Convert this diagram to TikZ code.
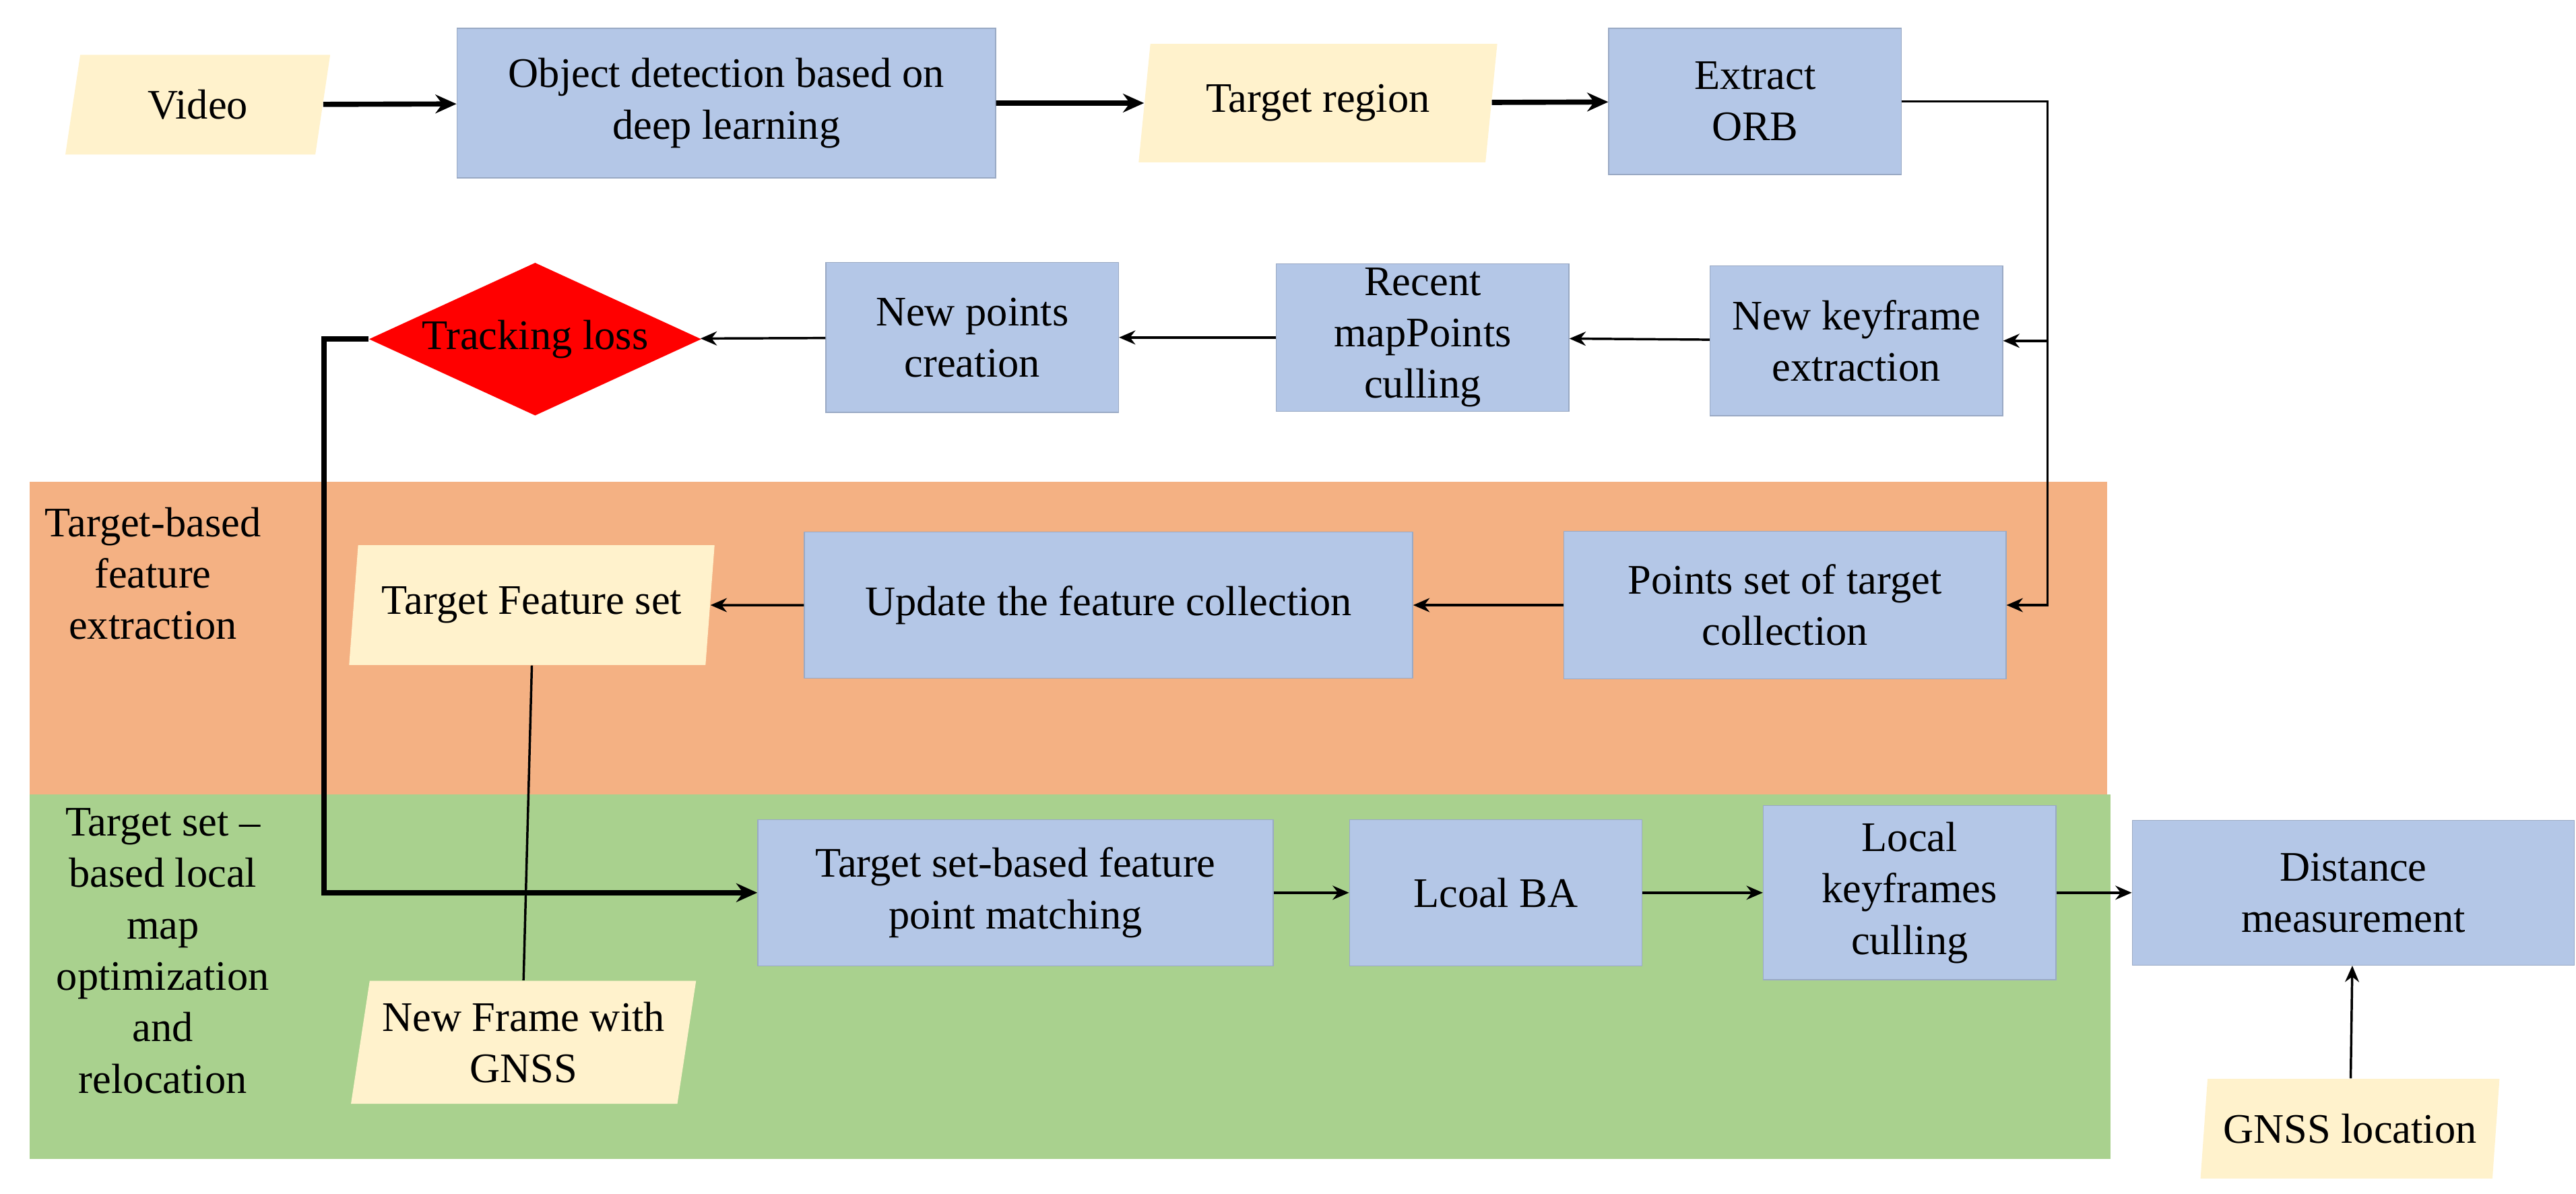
\documentclass[tikz,border=0pt]{standalone}
\usepackage{fontspec}
\setmainfont{Liberation Serif}
\usetikzlibrary{shapes.geometric,arrows.meta}
\definecolor{boxblue}{HTML}{B4C7E7}
\definecolor{paper}{HTML}{FFF2CC}
\definecolor{band1}{HTML}{F4B183}
\definecolor{band2}{HTML}{A9D18E}
\begin{document}
\begin{tikzpicture}[x=0.025cm,y=-0.025cm,
  every node/.style={font=\fontsize{18}{22}\selectfont,align=center,inner sep=0},
  box/.style={fill=boxblue,draw=boxblue!85!black,line width=0.4pt},
  io/.style={trapezium,trapezium left angle=78,trapezium right angle=102,
    trapezium stretches=true,fill=paper},
  arr/.style={-{Stealth[length=7pt,width=6pt]},line width=1pt},
  tarr/.style={-{Stealth[length=9pt,width=8pt]},line width=2.2pt},
  ln/.style={line width=1pt}]
\useasboundingbox (0,0) rectangle (1550,718);
% bands
\fill[band1] (18,290) rectangle (1268,478);
\fill[band2] (18,478) rectangle (1270,697);
\node at (92,345) {Target-based\\feature\\extraction};
\node at (98,572) {Target set --\\based local\\map\\optimization\\and\\relocation};
% top row
\node[io,minimum width=4cm,minimum height=1.5cm] (video) at (119,63) {Video};
\node[box,minimum width=8.1cm,minimum height=2.25cm] (obj) at (437,62) {Object detection based on\\deep learning};
\node[io,minimum width=5.4cm,minimum height=1.78cm] (treg) at (793,62) {Target region};
\node[box,minimum width=4.4cm,minimum height=2.2cm] (orb) at (1056,61) {Extract\\ORB};
% second row
\node[box,minimum width=4.4cm,minimum height=2.25cm] (nkf) at (1117,205) {New keyframe\\extraction};
\node[box,minimum width=4.4cm,minimum height=2.22cm] (rmp) at (856,203) {Recent\\mapPoints\\culling};
\node[box,minimum width=4.4cm,minimum height=2.25cm] (npc) at (585,203) {New points\\creation};
\node[diamond,fill=red,minimum width=5cm,minimum height=2.3cm] (tl) at (322,204) {};
\node (tltext) at (tl) {Tracking loss};
% orange band
\node[box,minimum width=6.65cm,minimum height=2.22cm] (pst) at (1074,364) {Points set of target\\collection};
\node[box,minimum width=9.15cm,minimum height=2.2cm] (upd) at (667,364) {Update the feature collection};
\node[io,minimum width=5.5cm,minimum height=1.8cm] (tfs) at (320,364) {Target Feature set};
% green band
\node[box,minimum width=7.75cm,minimum height=2.2cm] (match) at (611,537) {Target set-based feature\\point matching};
\node[box,minimum width=4.4cm,minimum height=2.2cm] (ba) at (900,537) {Lcoal BA};
\node[box,minimum width=4.4cm,minimum height=2.62cm] (lkc) at (1149,537) {Local\\keyframes\\culling};
\node[box,minimum width=6.65cm,minimum height=2.18cm] (dist) at (1416,537) {Distance\\measurement};
\node[io,minimum width=5.2cm,minimum height=1.85cm] (nfg) at (315,627) {New Frame with\\GNSS};
\node[io,minimum width=4.5cm,minimum height=1.5cm] (gnss) at (1414,679) {GNSS location};
\coordinate (rt) at (1232,61);
\coordinate (lt) at (195,204);
% connectors
\draw[tarr] (video) -- (obj);
\draw[tarr] (obj) -- (treg);
\draw[tarr] (treg) -- (orb);
\draw[arr] (orb.east) -- (rt) |- (pst.east);
\draw[arr] (rt) |- (nkf.east);
\draw[arr] (nkf) -- (rmp);
\draw[arr] (rmp) -- (npc);
\draw[arr] (npc) -- (tl);
\draw[tarr] (tl.west) -- (lt) |- (match.west);
\draw[arr] (pst) -- (upd);
\draw[arr] (upd) -- (tfs);
\draw[ln] (tfs.south) -- (nfg.north);
\draw[arr] (match) -- (ba);
\draw[arr] (ba) -- (lkc);
\draw[arr] (lkc) -- (dist);
\draw[arr] (gnss) -- (dist);
\end{tikzpicture}
\end{document}
